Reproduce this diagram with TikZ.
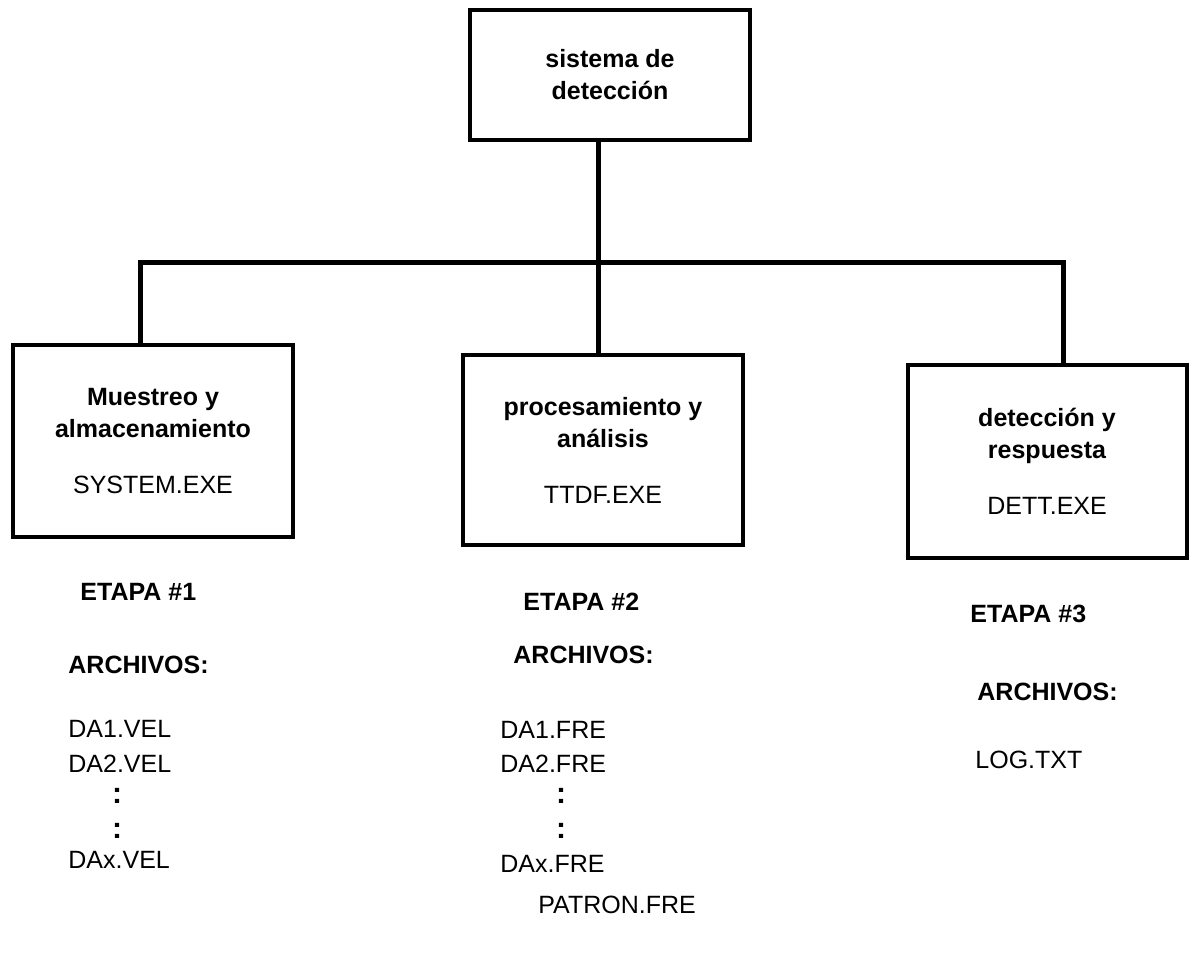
\documentclass[tikz,border=0pt]{standalone}
\usepackage{fontspec}
\setmainfont{Liberation Sans}
\usetikzlibrary{positioning,calc}
\tikzset{
    block/.style={
        draw,
        line width=2pt,
        rectangle,
        align=center,
        inner sep=0pt,
        font=\fontsize{12.5}{16}\selectfont
    },
    txt/.style={
        anchor=base west,
        inner sep=0pt,
        font=\fontsize{12.5}{15}\selectfont
    },
    boldtxt/.style={
        txt,
        font=\fontsize{12.5}{15}\selectfont\bfseries
    },
    vdots/.style={
        inner sep=0pt,
        font=\fontsize{15}{15}\selectfont\bfseries
    },
    link/.style={
        line width=2.5pt
    },
}

\begin{document}
\begin{tikzpicture}[x=0.5pt, y=-0.5pt]
        \useasboundingbox (0,0) rectangle (1197,955);

        % blocks
        \node[block, minimum width=140pt, minimum height=65pt] (sistema) at (610,75)
            {\bfseries sistema de\\ \bfseries detección};
        \node[block, minimum width=140pt, minimum height=96pt] (etapa1) at (153,441)
            {\bfseries Muestreo y\\ \bfseries almacenamiento\\[12pt] SYSTEM.EXE};
        \node[block, minimum width=140pt, minimum height=95pt] (etapa2) at (603,450)
            {\bfseries procesamiento y\\ \bfseries análisis\\[12pt] TTDF.EXE};
        \node[block, minimum width=139.5pt, minimum height=96.5pt] (etapa3) at (1047,461)
            {\bfseries detección y\\ \bfseries respuesta\\[12pt] DETT.EXE};

        % bus coordinates
        \coordinate (bus) at (598,262);
        \coordinate (drop1) at ($(etapa1.north)+(-13,0)$);
        \coordinate (drop3) at ($(etapa3.north)+(16,0)$);

        % lines
        \draw[link] (sistema.south -| bus) -- (bus);
        \draw[link] (drop1) |- (bus) -| (drop3);
        \draw[link] (bus) -- (bus |- etapa2.north);

        % stage 1 files
        \node[boldtxt] (et1) at (80,600) {ETAPA \#1};
        \node[boldtxt] (ar1) at (68,673) {ARCHIVOS:};
        \node[txt] (f11) at (68,737) {DA1.VEL};
        \node[txt] (f12) at (68,772) {DA2.VEL};
        \node[vdots] (d11) at (117,796) {:};
        \node[vdots] (d12) at (117,831) {:};
        \node[txt] (f1x) at (68,868) {DAx.VEL};

        % stage 2 files
        \node[boldtxt] (et2) at (523,610) {ETAPA \#2};
        \node[boldtxt] (ar2) at (513,663) {ARCHIVOS:};
        \node[txt] (f21) at (500,738) {DA1.FRE};
        \node[txt] (f22) at (500,772) {DA2.FRE};
        \node[vdots] (d21) at (561,796) {:};
        \node[vdots] (d22) at (561,831) {:};
        \node[txt] (f2x) at (500,872) {DAx.FRE};
        \node[txt] (pat) at (538,913) {PATRON.FRE};

        % stage 3 files
        \node[boldtxt] (et3) at (970,622) {ETAPA \#3};
        \node[boldtxt] (ar3) at (977,700) {ARCHIVOS:};
        \node[txt] (f31) at (975,768) {LOG.TXT};
\end{tikzpicture}
\end{document}
